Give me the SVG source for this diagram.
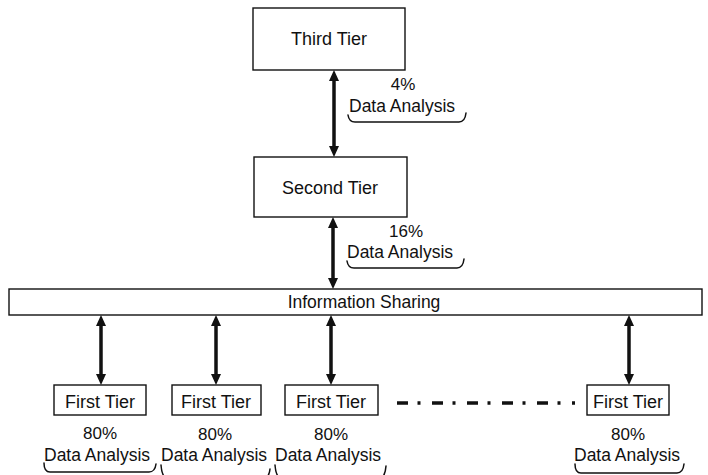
<svg xmlns="http://www.w3.org/2000/svg" width="708" height="475" viewBox="0 0 708 475">
  <style>
    .box { fill: #fff; stroke: #111; stroke-width: 1.4; }
    .lbl { font-family: "Liberation Sans", Arial, sans-serif; font-size: 18px; fill: #111; }
    .da { font-size: 17.5px; }
    .mid { text-anchor: middle; }
    .pct { font-family: "Liberation Sans", Arial, sans-serif; font-size: 17px; fill: #111; text-anchor: middle; }
    .link { stroke: #111; stroke-width: 3.5; fill: none; marker-start: url(#head); marker-end: url(#head); }
    .brace { stroke: #111; stroke-width: 1.5; fill: none; stroke-linecap: round; }
  </style>
  <defs>
    <marker id="head" markerUnits="userSpaceOnUse" markerWidth="11" markerHeight="10" refX="5" refY="5" orient="auto-start-reverse">
      <path d="M0,0 L11,5 L0,10 z" fill="#111"/>
    </marker>
  </defs>
  <rect width="708" height="475" fill="#fff"/>

  <!-- connectors -->
  <g id="connectors">
    <line class="link" x1="334" y1="76" x2="334" y2="151"/>
    <line class="link" x1="333" y1="223" x2="333" y2="283"/>
    <line class="link" x1="101" y1="321" x2="101" y2="379"/>
    <line class="link" x1="216" y1="321" x2="216" y2="379"/>
    <line class="link" x1="331" y1="321" x2="331" y2="379"/>
    <line class="link" x1="629" y1="321" x2="629" y2="379"/>
    <!-- continuation of further first-tier units -->
    <line x1="397" y1="403" x2="575" y2="403" stroke="#111" stroke-width="3.5" stroke-dasharray="11 9.5 3 11.5"/>
  </g>

  <!-- annotations -->
  <g id="annotations">
    <text class="pct" x="403" y="90">4%</text>
    <text class="lbl da" x="349" y="112">Data Analysis</text>
    <path class="brace" d="M348,115 Q349,122 355,122 L459,122 Q465,122 466,113"/>

    <text class="pct" x="406" y="237">16%</text>
    <text class="lbl da" x="347" y="258">Data Analysis</text>
    <path class="brace" d="M347,261 Q348,268 354,268 L457,268 Q463,268 464,259"/>
  </g>

  <g id="third-tier">
    <rect class="box" x="253" y="8" width="152" height="62"/>
    <text class="lbl mid" x="329" y="45">Third Tier</text>
  </g>

  <g id="second-tier">
    <rect class="box" x="254" y="157" width="153" height="60"/>
    <text class="lbl mid" x="330" y="194">Second Tier</text>
  </g>

  <g id="information-sharing">
    <rect class="box" x="9" y="289" width="693" height="26"/>
    <text class="lbl mid" x="364" y="308" style="font-size:17.5px">Information Sharing</text>
  </g>

  <g id="first-tier-1">
    <rect class="box" x="54" y="385" width="92" height="30"/>
    <text class="lbl mid" x="100" y="408">First Tier</text>
    <text class="pct" x="100" y="439">80%</text>
    <text class="lbl da" x="44" y="461">Data Analysis</text>
    <path class="brace" d="M44,463 Q44,472 50,472 L149,472 Q155,472 156,464"/>
  </g>

  <g id="first-tier-2">
    <rect class="box" x="172" y="385" width="89" height="30"/>
    <text class="lbl mid" x="216" y="408">First Tier</text>
    <text class="pct" x="215" y="440">80%</text>
    <text class="lbl da" x="161" y="461">Data Analysis</text>
    <path class="brace" d="M161,465 Q162,479 169,479 L262,479 Q269,479 270,469"/>
  </g>

  <g id="first-tier-3">
    <rect class="box" x="285" y="385" width="93" height="30"/>
    <text class="lbl mid" x="331" y="408">First Tier</text>
    <text class="pct" x="331" y="440">80%</text>
    <text class="lbl da" x="275" y="461">Data Analysis</text>
    <path class="brace" d="M275,465 Q276,479 283,479 L378,479 Q385,479 386,466"/>
  </g>

  <g id="first-tier-4">
    <rect class="box" x="587" y="385" width="82" height="30"/>
    <text class="lbl mid" x="628" y="408">First Tier</text>
    <text class="pct" x="628" y="440">80%</text>
    <text class="lbl da" x="574" y="461">Data Analysis</text>
    <path class="brace" d="M575,464 Q575,473 581,473 L677,473 Q683,473 684,464"/>
  </g>
</svg>
